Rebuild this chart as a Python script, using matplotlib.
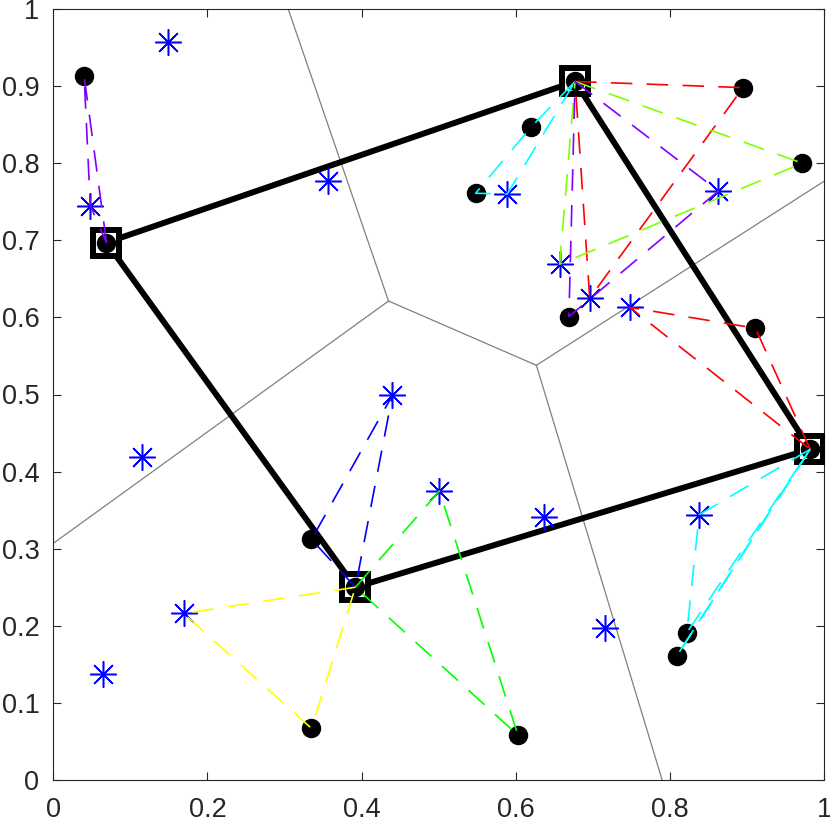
import numpy as np
import matplotlib
matplotlib.use("Agg")
import matplotlib.pyplot as plt

plt.rcParams['font.family'] = ['Liberation Sans', 'DejaVu Sans']
plt.rcParams['lines.scale_dashes'] = False

# ---- data ----
# customer points drawn as black dots
dot_x = [0.040, 0.620, 0.548, 0.895, 0.972, 0.669, 0.911, 0.335, 0.335, 0.603, 0.822, 0.809]
dot_y = [0.913, 0.847, 0.761, 0.898, 0.800, 0.601, 0.586, 0.312, 0.067, 0.058, 0.191, 0.161]
# customer points drawn as blue asterisks
star_x = [0.149, 0.048, 0.356, 0.589, 0.657, 0.696, 0.863, 0.748, 0.440, 0.115, 0.501, 0.637, 0.838, 0.169, 0.716, 0.064]
star_y = [0.957, 0.745, 0.777, 0.760, 0.669, 0.625, 0.764, 0.613, 0.499, 0.419, 0.375, 0.341, 0.344, 0.216, 0.197, 0.138]
# hubs (squares), in ring order
hub_x = [0.069, 0.677, 0.982, 0.392]
hub_y = [0.697, 0.906, 0.429, 0.250]

# routes: hub index, colour, stops ('d', i) = dot i, ('s', i) = star i
route_hub = [0, 1, 1, 1, 1, 2, 2, 2, 3, 3, 3]
route_color = ['#8000ff', '#00ffff', '#ff0000', '#80ff00', '#8000ff',
               '#ff0000', '#00ffff', '#00ffff', '#0000ff', '#00ff00', '#ffff00']
route_stops = [
    [('d', 0), ('s', 1)],
    [('d', 1), ('d', 2), ('s', 3)],
    [('d', 3), ('s', 5)],
    [('d', 4), ('s', 4)],
    [('s', 6), ('d', 5)],
    [('d', 6), ('s', 7)],
    [('s', 12), ('d', 10)],
    [('d', 11)],
    [('d', 7), ('s', 8)],
    [('s', 10), ('d', 9)],
    [('s', 13), ('d', 8)],
]

x_ticks = [0, 0.2, 0.4, 0.6, 0.8, 1]
x_labels = ['0', '0.2', '0.4', '0.6', '0.8', '1']
y_ticks = [0, 0.1, 0.2, 0.3, 0.4, 0.5, 0.6, 0.7, 0.8, 0.9, 1]
y_labels = ['0', '0.1', '0.2', '0.3', '0.4', '0.5', '0.6', '0.7', '0.8', '0.9', '1']

# ---- figure ----
fig = plt.figure(figsize=(8.30, 8.27), dpi=100)
ax = fig.add_axes([53.3 / 830, 47 / 827, 770.7 / 830, 771 / 827])

hubs = np.column_stack([hub_x, hub_y])

# Voronoi diagram of the four hubs
def circumcenter(p, q, r):
    a = 2 * np.array([[q[0] - p[0], q[1] - p[1]], [r[0] - p[0], r[1] - p[1]]])
    b = np.array([q @ q - p @ p, r @ r - p @ p])
    return np.linalg.solve(a, b)

A, B, C, D = hubs
center = hubs.mean(axis=0)
V1 = circumcenter(A, B, D)
V2 = circumcenter(B, C, D)
gray = '#808080'
ax.plot([V1[0], V2[0]], [V1[1], V2[1]], color=gray, lw=0.9, zorder=1)
for v, (p, q) in [(V1, (A, B)), (V1, (A, D)), (V2, (B, C)), (V2, (C, D))]:
    t = q - p
    n = np.array([-t[1], t[0]])
    n /= np.linalg.norm(n)
    mid = (p + q) / 2
    if np.dot(mid - center, n) < 0:
        n = -n
    end = v + 3 * n
    ax.plot([v[0], end[0]], [v[1], end[1]], color=gray, lw=0.9, zorder=1)

# thick ring through hubs
ax.plot(hub_x + hub_x[:1], hub_y + hub_y[:1], color='black', lw=4.3,
        solid_joinstyle='miter', zorder=2)

# hub squares
ax.plot(hub_x, hub_y, ls='none', marker='s', ms=18.7, mew=4.3,
        mec='black', mfc='white', zorder=3)

# black dots (customers and hubs)
ax.plot(dot_x + hub_x, dot_y + hub_y, ls='none', marker='o', ms=13,
        mfc='black', mec='black', zorder=4)

# blue asterisks
ax.plot(star_x, star_y, ls='none', marker=(8, 2, 0), ms=19, mew=1.1,
        mec='#0000ff', zorder=4)

# dashed routes
for h, col, stops in zip(route_hub, route_color, route_stops):
    xs = [hub_x[h]]
    ys = [hub_y[h]]
    for kind, i in stops:
        if kind == 'd':
            xs.append(dot_x[i]); ys.append(dot_y[i])
        else:
            xs.append(star_x[i]); ys.append(star_y[i])
    xs.append(hub_x[h]); ys.append(hub_y[h])
    ax.plot(xs, ys, color=col, lw=1.2, ls=(0, (15.5, 10.3)), zorder=5)

ax.set_xlim(0, 1)
ax.set_ylim(0, 1)
ax.set_xticks(x_ticks)
ax.set_xticklabels(x_labels)
ax.set_yticks(y_ticks)
ax.set_yticklabels(y_labels)

axcol = '#262626'
for s in ax.spines.values():
    s.set_color(axcol)
    s.set_linewidth(0.8)
ax.tick_params(direction='in', length=5.8, width=0.8, color=axcol,
               top=True, right=True, labelsize=19.5, labelcolor=axcol)
ax.tick_params(axis='x', pad=12)
ax.tick_params(axis='y', pad=10)

fig.savefig('out.png', dpi=100)
